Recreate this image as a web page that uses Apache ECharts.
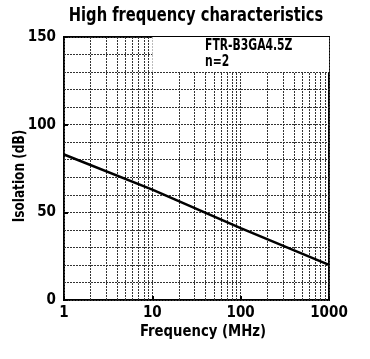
<!DOCTYPE html>
<html><head><meta charset="utf-8">
<script src="https://cdn.jsdelivr.net/npm/echarts@6/dist/echarts.min.js"></script>
<style>html,body{margin:0;padding:0;background:#fff}#c{width:370px;height:359px}</style>
</head><body><div id="c"></div>
<script>
var freqMHz = [1, 10, 100, 1000];
var isolationDb = [83, 63, 41, 20];
var xTickLabels = ['1', '10', '100', '1000'];
var yTickLabels = ['0', '50', '100', '150'];
var xGridValues = [2,3,4,5,6,7,8,9,20,30,40,50,60,70,80,90,200,300,400,500,600,700,800,900];
var legendBox = [[10, 130], [1000, 150]];
var partName = 'FTR-B3GA4.5Z';
var partNote = 'n=2';

var FONT = "'DejaVu Sans Condensed',sans-serif";
var chart = echarts.init(document.getElementById('c'));
var gridDot = {color: '#333', width: 1, type: [2, 1]};
chart.setOption({
  animation: false,
  grid: {left: 64, right: 41, top: 37, bottom: 59, show: true, borderColor: '#000', borderWidth: 2,
    outerBoundsMode: 'none', containLabel: false},
  xAxis: {type: 'log', logBase: 10, min: 1, max: 1000,
    axisLine: {show: false},
    axisTick: {show: true, inside: true, length: 4, lineStyle: {color: '#000', width: 2}},
    axisLabel: {fontFamily: FONT, fontWeight: 'bold', fontSize: 15, color: '#000', margin: 6,
      formatter: function (v) { var i = freqMHz.indexOf(v); return xTickLabels[i] !== undefined ? xTickLabels[i] : String(v); }},
    splitLine: {show: true, lineStyle: gridDot}},
  yAxis: {type: 'value', min: 0, max: 150, interval: 50,
    axisLine: {show: false},
    axisTick: {show: true, inside: true, length: 4, lineStyle: {color: '#000', width: 2}},
    axisLabel: {fontFamily: FONT, fontWeight: 'bold', fontSize: 15, color: '#000', margin: 8,
      formatter: function (v) { return yTickLabels[Math.round(v / 50)]; }},
    splitLine: {show: true, lineStyle: gridDot},
    minorTick: {show: false, splitNumber: 5},
    minorSplitLine: {show: true, lineStyle: gridDot}},
  series: [
    {type: 'line', data: [], silent: true, z: 1,
      markLine: {silent: true, z: 1, symbol: 'none', label: {show: false}, animation: false,
        lineStyle: gridDot,
        data: xGridValues.map(function (v) { return {xAxis: v}; })}},
    {type: 'line', data: [], silent: true, z: 3,
      markArea: {silent: true, z: 8, itemStyle: {color: '#fff', opacity: 1},
        data: [[{coord: legendBox[0]}, {coord: legendBox[1]}]]}},
    {type: 'line', z: 5, showSymbol: false, symbol: 'none',
      lineStyle: {color: '#000', width: 2.5},
      data: freqMHz.map(function (f, i) { return [f, isolationDb[i]]; })}
  ],
  graphic: [
    {type: 'text', x: 196, y: 16, scaleX: 0.86, z: 10, style: {text: 'High frequency characteristics', fontFamily: FONT, fontWeight: 'bold', fontSize: 19, fill: '#000', align: 'center', verticalAlign: 'middle'}},
    {type: 'text', x: 20, y: 176, rotation: Math.PI / 2, scaleX: 0.9, z: 10, style: {text: 'Isolation (dB)', fontFamily: FONT, fontWeight: 'bold', fontSize: 15, fill: '#000', align: 'center', verticalAlign: 'middle'}},
    {type: 'text', x: 203, y: 332, scaleX: 0.92, z: 10, style: {text: 'Frequency (MHz)', fontFamily: FONT, fontWeight: 'bold', fontSize: 16, fill: '#000', align: 'center', verticalAlign: 'middle'}},
    {type: 'text', x: 205, y: 46, scaleX: 0.8, z: 10, style: {text: partName, fontFamily: FONT, fontWeight: 'bold', fontSize: 15, fill: '#000', verticalAlign: 'middle'}},
    {type: 'text', x: 205, y: 62, scaleX: 0.8, z: 10, style: {text: partNote, fontFamily: FONT, fontWeight: 'bold', fontSize: 15, fill: '#000', verticalAlign: 'middle'}}
  ]
});
</script></body></html>
